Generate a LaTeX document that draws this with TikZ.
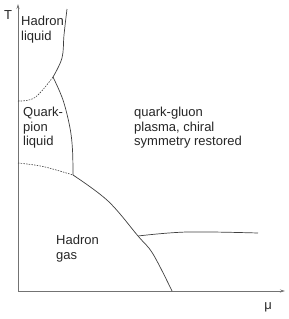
\documentclass[tikz,border=0pt]{standalone}
\usepackage{fontspec}
\setmainfont{Liberation Sans}
\usetikzlibrary{arrows.meta}
\begin{document}
\begin{tikzpicture}[x=1pt,y=-1pt,
  axis/.style={draw=black!55,line width=0.9pt,-{Stealth[length=5pt,width=3pt]}},
  phase/.style={draw=black!75,line width=0.7pt},
  cross/.style={draw=black!75,line width=0.6pt,dash pattern=on 1.5pt off 1.2pt},
  lbl/.style={font=\fontsize{13}{14.5}\selectfont,text=black!85,inner sep=0pt,align=left}]
\useasboundingbox (0,0) rectangle (289,319);
% axes
\coordinate (O) at (18,291);
\coordinate (Ttop) at (18,4);
\coordinate (Mend) at (285,291);
\draw[axis] (O) -- (Ttop);
\draw[axis] (O) -- (Mend);
% key points
\coordinate (P1) at (53,77);
\coordinate (P2) at (73,175);
\coordinate (P3) at (138,236);
\coordinate (Pend) at (172,291);
\coordinate (Htop) at (67,9);
\coordinate (D1) at (18,101);
\coordinate (D2) at (18,163);
\coordinate (Rend) at (258,233);
% hadron liquid boundary
\draw[phase] plot[smooth,tension=0.6] coordinates {(Htop) (64,35) (62,58) (P1)};
% quark-pion liquid boundary
\draw[phase] plot[smooth,tension=0.6] coordinates {(P1) (63,100) (70,128) (72.5,150) (P2)};
% chiral transition line
\draw[phase] plot[smooth,tension=0.6] coordinates {(P2) (108,201) (P3) (153,254) (Pend)};
% first order line
\draw[phase] plot[smooth,tension=0.6] coordinates {(P3) (187,232) (Rend)};
% crossovers
\draw[cross] plot[smooth,tension=0.6] coordinates {(D1) (35,97.5) (P1)};
\draw[cross] plot[smooth,tension=0.6] coordinates {(D2) (43,166.5) (P2)};
% labels
\node[lbl] (tlab) at (8,15) {T};
\node[lbl] (mulab) at (268,307) {μ};
\node[lbl,anchor=north west] (hl) at (21,16) {Hadron\\liquid};
\node[lbl,anchor=north west] (qp) at (23,107) {Quark-\\pion\\liquid};
\node[lbl,anchor=north west] (qgp) at (134,107) {quark-gluon\\plasma, chiral\\symmetry restored};
\node[lbl,anchor=north west] (hg) at (56,235) {Hadron\\gas};
\end{tikzpicture}
\end{document}
